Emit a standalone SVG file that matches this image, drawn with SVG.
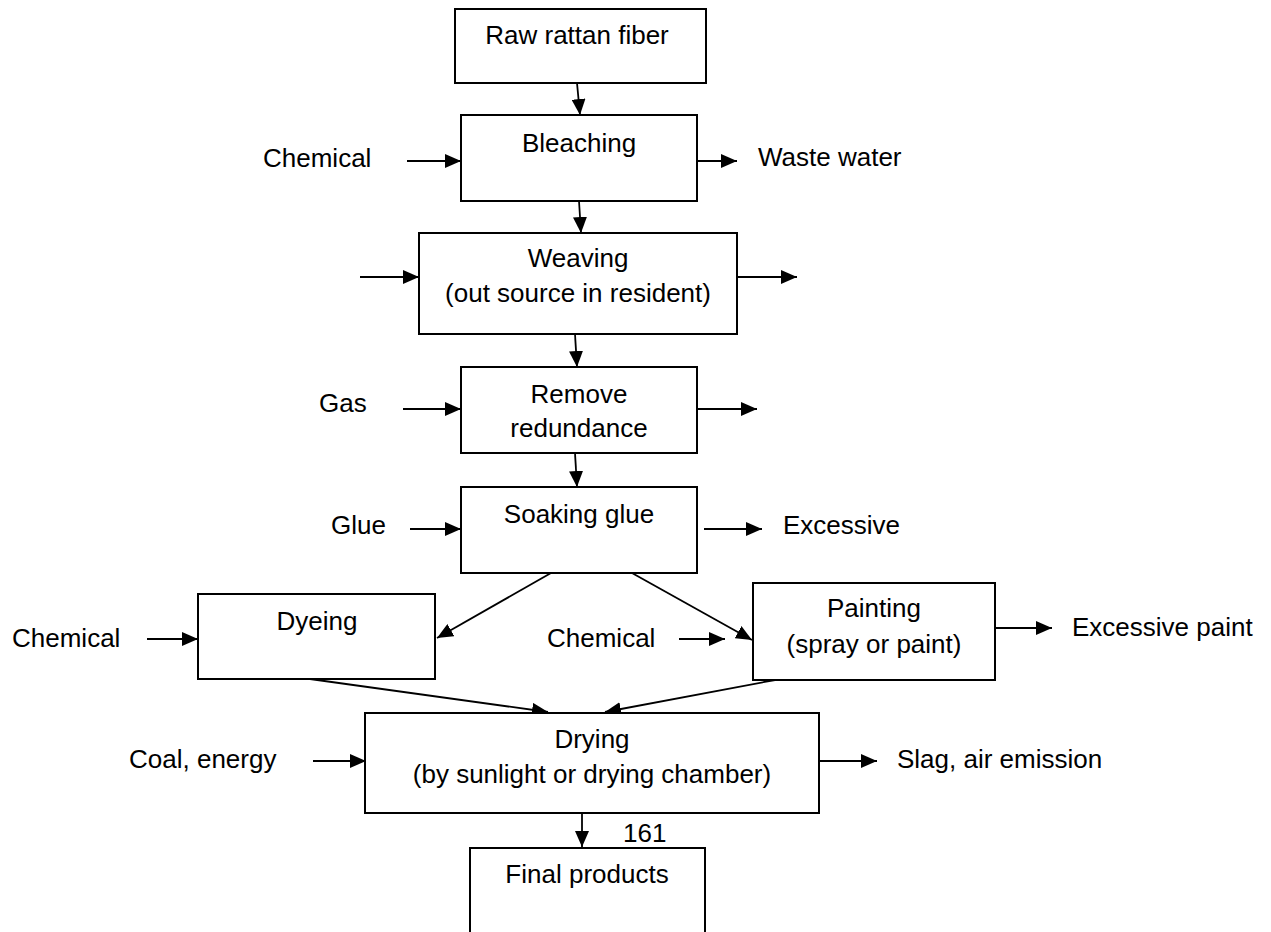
<svg xmlns="http://www.w3.org/2000/svg" width="1271" height="932" viewBox="0 0 1271 932">
<style>
.box{fill:#fff;stroke:#000;stroke-width:2}
text{font-family:"Liberation Sans",Arial,sans-serif;font-size:26px;fill:#000}
.c{text-anchor:middle}
.ln{stroke:#000;stroke-width:1.8;fill:none;marker-end:url(#ah)}
</style>
<defs>
<marker id="ah" markerUnits="userSpaceOnUse" markerWidth="16" markerHeight="14" refX="16" refY="7" orient="auto">
<path d="M0,0 L16,7 L0,14 z" fill="#000"/>
</marker>
</defs>
<rect width="1271" height="932" fill="#fff"/>
<g id="connectors">
<line class="ln" x1="577" y1="83" x2="580" y2="115"/>
<line class="ln" x1="579" y1="201" x2="581" y2="233"/>
<line class="ln" x1="575" y1="334" x2="577" y2="367"/>
<line class="ln" x1="575" y1="453" x2="577" y2="487"/>
<line class="ln" x1="551" y1="573" x2="437" y2="638"/>
<line class="ln" x1="632" y1="573" x2="752" y2="640"/>
<line class="ln" x1="310" y1="679" x2="548" y2="712"/>
<line class="ln" x1="775" y1="680" x2="605" y2="712"/>
<line class="ln" x1="582" y1="813" x2="582" y2="847"/>
<line class="ln" x1="407" y1="161" x2="461" y2="161"/>
<line class="ln" x1="697" y1="161" x2="737" y2="161"/>
<line class="ln" x1="360" y1="277" x2="419" y2="277"/>
<line class="ln" x1="737" y1="277" x2="797" y2="277"/>
<line class="ln" x1="403" y1="409" x2="461" y2="409"/>
<line class="ln" x1="697" y1="409" x2="757" y2="409"/>
<line class="ln" x1="410" y1="529" x2="461" y2="529"/>
<line class="ln" x1="704" y1="529" x2="762" y2="529"/>
<line class="ln" x1="147" y1="639" x2="198" y2="639"/>
<line class="ln" x1="679" y1="639" x2="725" y2="639"/>
<line class="ln" x1="995" y1="628" x2="1052" y2="628"/>
<line class="ln" x1="313" y1="761" x2="366" y2="761"/>
<line class="ln" x1="819" y1="761" x2="877" y2="761"/>
</g>
<g id="raw">
<rect class="box" x="455" y="9" width="251" height="74"/>
<text class="c" x="577" y="44">Raw rattan fiber</text>
</g>
<g id="bleaching">
<rect class="box" x="461" y="115" width="236" height="86"/>
<text class="c" x="579" y="152">Bleaching</text>
</g>
<g id="weaving">
<rect class="box" x="419" y="233" width="318" height="101"/>
<text class="c" x="578" y="267">Weaving</text>
<text class="c" x="578" y="302">(out source in resident)</text>
</g>
<g id="remove">
<rect class="box" x="461" y="367" width="236" height="86"/>
<text class="c" x="579" y="403">Remove</text>
<text class="c" x="579" y="437">redundance</text>
</g>
<g id="soaking">
<rect class="box" x="461" y="487" width="236" height="86"/>
<text class="c" x="579" y="523">Soaking glue</text>
</g>
<g id="dyeing">
<rect class="box" x="198" y="594" width="237" height="85"/>
<text class="c" x="317" y="630">Dyeing</text>
</g>
<g id="painting">
<rect class="box" x="753" y="583" width="242" height="97"/>
<text class="c" x="874" y="617">Painting</text>
<text class="c" x="874" y="653">(spray or paint)</text>
</g>
<g id="drying">
<rect class="box" x="365" y="713" width="454" height="100"/>
<text class="c" x="592" y="748">Drying</text>
<text class="c" x="592" y="783">(by sunlight or drying chamber)</text>
</g>
<g id="final">
<rect class="box" x="470" y="848" width="235" height="100"/>
<text class="c" x="587" y="883">Final products</text>
</g>
<g id="labels">
<text x="263" y="167">Chemical</text>
<text x="758" y="166">Waste water</text>
<text x="319" y="412">Gas</text>
<text x="331" y="534">Glue</text>
<text x="783" y="534">Excessive</text>
<text x="12" y="647">Chemical</text>
<text x="547" y="647">Chemical</text>
<text x="1072" y="636">Excessive paint</text>
<text x="129" y="768">Coal, energy</text>
<text x="897" y="768">Slag, air emission</text>
<text x="623" y="842">161</text>
</g>
</svg>
